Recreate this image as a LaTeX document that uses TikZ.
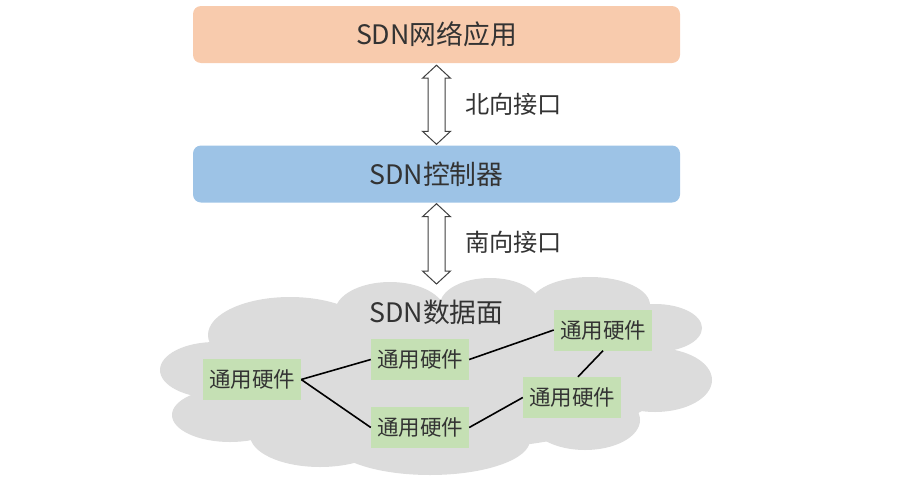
\documentclass[tikz,border=0pt]{standalone}
\usepackage{fontspec}
\setmainfont{Noto Sans CJK SC}
\usetikzlibrary{calc}
\definecolor{appc}{HTML}{F8CBAD}
\definecolor{ctrlc}{HTML}{9DC3E6}
\definecolor{hwc}{HTML}{C5E0B4}
\definecolor{cloudc}{HTML}{DCDCDC}
\definecolor{txtc}{HTML}{333333}
\definecolor{arrc}{HTML}{404040}
\tikzset{
 layer/.style={rounded corners=8pt, minimum width=487pt, minimum height=57pt, inner sep=0pt, text=txtc, font=\fontsize{26.8}{30}\selectfont},
 hw/.style={fill=hwc, minimum width=98pt, minimum height=41pt, inner sep=0pt, text=txtc, font=\fontsize{21.5}{24}\selectfont},
 iflabel/.style={anchor=west, text=txtc, font=\fontsize{24.2}{26}\selectfont, inner sep=0pt},
 planelabel/.style={text=txtc, font=\fontsize{26.8}{30}\selectfont, inner sep=0pt},
 link/.style={line width=1.6pt, black},
 hollow/.style={draw=arrc, fill=white, line width=1pt, line join=miter},
 cloudpart/.style={fill=cloudc},
}
\newcommand\hollowarrow[2]{%
 \draw[hollow] let \p1=(#1), \p2=(#2) in
 (\x1,\y1) -- (\x1+14pt,\y1-13pt) -- (\x1+8.5pt,\y1-13pt) -- (\x1+8.5pt,\y2+13pt) -- (\x1+14pt,\y2+13pt) -- (\x1,\y2) -- (\x1-14pt,\y2+13pt) -- (\x1-8.5pt,\y2+13pt) -- (\x1-8.5pt,\y1-13pt) -- (\x1-14pt,\y1-13pt) -- cycle;}
\begin{document}
\begin{tikzpicture}[x=1pt, y=-1pt]
\useasboundingbox (0,0) rectangle (899,482);
% cloud
\fill[cloudpart] (440,375) ellipse [x radius=230pt, y radius=75pt];
\fill[cloudpart] (215,370) ellipse [x radius=55pt, y radius=28pt];
\fill[cloudpart] (230,415) ellipse [x radius=58pt, y radius=27pt];
\fill[cloudpart] (290,335) ellipse [x radius=82pt, y radius=38pt];
\fill[cloudpart] (390,312) ellipse [x radius=55pt, y radius=30pt];
\fill[cloudpart] (490,305) ellipse [x radius=50pt, y radius=27pt];
\fill[cloudpart] (590,305) ellipse [x radius=60pt, y radius=28pt];
\fill[cloudpart] (655,328) ellipse [x radius=47pt, y radius=24pt];
\fill[cloudpart] (655,380) ellipse [x radius=57pt, y radius=32pt];
\fill[cloudpart] (585,420) ellipse [x radius=55pt, y radius=30pt];
\fill[cloudpart] (430,440) ellipse [x radius=100pt, y radius=35pt];
\fill[cloudpart] (320,435) ellipse [x radius=70pt, y radius=32pt];
% layers
\node[layer, fill=appc] (app) at (436.5,34.5) {SDN网络应用};
\node[layer, fill=ctrlc] (ctrl) at (436.5,174) {SDN控制器};
\node[planelabel] (dp) at (436.5,312.5) {SDN数据面};
\coordinate (dtop) at (436.5,284);
% interfaces
\coordinate (a1) at ($(app.south)+(0,2)$);
\coordinate (a2) at ($(ctrl.north)+(0,-1)$);
\coordinate (b1) at ($(ctrl.south)+(0,1)$);
\hollowarrow{a1}{a2}
\hollowarrow{b1}{dtop}
\node[iflabel] (nb) at (465,104) {北向接口};
\node[iflabel] (sb) at (465,242) {南向接口};
% hardware
\node[hw] (A) at (252,379.5) {通用硬件};
\node[hw] (B) at (420,359.5) {通用硬件};
\node[hw] (C) at (420,427.5) {通用硬件};
\node[hw] (D) at (603,330) {通用硬件};
\node[hw] (E) at (572,397.5) {通用硬件};
\coordinate (Etop) at ($(E.north)+(6,0)$);
\draw[link] (A.east) -- (B.west);
\draw[link] (A.east) -- (C.west);
\draw[link] (B.east) -- (D.west);
\draw[link] (D.south) -- (Etop);
\draw[link] (C.east) -- (E.west);
\end{tikzpicture}
\end{document}
